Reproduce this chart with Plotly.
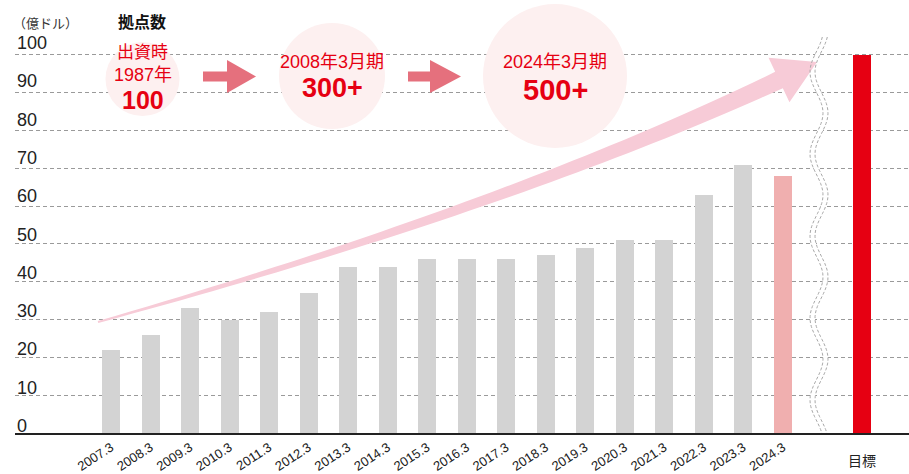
import numpy as np
import plotly.graph_objects as go

# ---------------- data ----------------
categories = ["2007.3", "2008.3", "2009.3", "2010.3", "2011.3", "2012.3", "2013.3",
              "2014.3", "2015.3", "2016.3", "2017.3", "2018.3", "2019.3", "2020.3",
              "2021.3", "2022.3", "2023.3", "2024.3"]
values = [22, 26, 33, 30, 32, 37, 44, 44, 46, 46, 46, 47, 49, 51, 51, 63, 71, 68]
target_label = "目標"
target_value = 100
y_ticks = [0, 10, 20, 30, 40, 50, 60, 70, 80, 90, 100]
unit_label = "（億ドル）"
title_label = "拠点数"
circle_texts = [["出資時", "1987年", "100"],
                ["2008年3月期", "300+"],
                ["2024年3月期", "500+"]]

# ---------------- layout geometry ----------------
W, H = 909, 474
L, R, T, B = 15, 0, 36, 41
PW, PH = W - L - R, H - T - B
X0, X1 = -2.429, 20.19
Y0, Y1 = 0, 105

def px(x):  # pixel -> paper x
    return (x - L) / PW

def py(y):  # pixel -> paper y
    return (H - B - y) / PH

FONT = "Liberation Sans, Arial, Noto Sans CJK JP, sans-serif"
RED = "#E60012"

x_pos = list(range(len(categories))) + [len(categories) + 1]
bar_vals = values + [target_value]
bar_colors = ["#D3D3D3"] * (len(categories) - 1) + ["#F0AFAF", RED]

fig = go.Figure()
fig.add_trace(go.Bar(x=x_pos, y=bar_vals, marker=dict(color=bar_colors, line=dict(width=0)),
                     width=0.456, hoverinfo="skip"))

shapes = []
annotations = []

# circles
for cx, cy, r in [(142.5, 79, 37), (332, 76, 53), (555, 76, 72)]:
    shapes.append(dict(type="circle", xref="paper", yref="paper", layer="above",
                       x0=px(cx - r), x1=px(cx + r), y0=py(cy + r), y1=py(cy - r),
                       fillcolor="#FDF0F0", line=dict(width=0)))

# small rose arrows
def small_arrow(xs, xh, xt, yc):
    pts = [(xs, yc - 5), (xh, yc - 5), (xh, yc - 16.5), (xt, yc),
           (xh, yc + 16.5), (xh, yc + 5), (xs, yc + 5)]
    return "M " + " L ".join(f"{px(a):.5f},{py(b):.5f}" for a, b in pts) + " Z"

for args in [(203, 227, 256, 76.5), (408, 430, 461, 76.5)]:
    shapes.append(dict(type="path", xref="paper", yref="paper", layer="above",
                       path=small_arrow(*args), fillcolor="#E5707D", line=dict(width=0)))

# white band behind the break
ys = np.linspace(37, 433, 120)
wl = 816.5 + 6.5 * np.cos(2 * np.pi * (ys - 113) / 82)
wr = wl + 5
band = [(a, b) for a, b in zip(wl, ys)] + [(a, b) for a, b in zip(wr[::-1], ys[::-1])]
shapes.append(dict(type="path", xref="paper", yref="paper", layer="above",
                   path="M " + " L ".join(f"{px(a):.5f},{py(b):.5f}" for a, b in band) + " Z",
                   fillcolor="white", line=dict(width=0)))

# big pink arrow
P0, P1, P2 = np.array([98.0, 322.0]), np.array([509.0, 207.0]), np.array([779.0, 80.0])
ts = np.linspace(0, 1, 50)
upper, lower = [], []
for t in ts:
    p = (1 - t) ** 2 * P0 + 2 * t * (1 - t) * P1 + t ** 2 * P2
    d = 2 * (1 - t) * (P1 - P0) + 2 * t * (P2 - P1)
    d = d / np.linalg.norm(d)
    n = np.array([-d[1], d[0]])
    w = 1.0 + 8.0 * t
    upper.append(p - w * n)
    lower.append(p + w * n)
dE = (P2 - P1) / np.linalg.norm(P2 - P1)
nE = np.array([-dE[1], dE[0]])
tip = P2 + 42 * dE
c1 = P2 - 24.6 * nE
c2 = P2 + 24.6 * nE
poly = upper + [c1, tip, c2] + lower[::-1]
shapes.append(dict(type="path", xref="paper", yref="paper", layer="above",
                   path="M " + " L ".join(f"{px(a):.5f},{py(b):.5f}" for a, b in poly) + " Z",
                   fillcolor="#F7CBD7", line=dict(width=0)))

# wavy break lines
for xs_ in (wl, wr):
    shapes.append(dict(type="path", xref="paper", yref="paper", layer="above",
                       path="M " + " L ".join(f"{px(a):.5f},{py(b):.5f}" for a, b in zip(xs_, ys)),
                       line=dict(color="#A8A8A8", width=1, dash="3px,2px")))

# y tick labels (above gridlines)
for v in y_ticks:
    annotations.append(dict(xref="paper", yref="paper", x=px(15), y=py(43 + (100 - v) * 3.83),
                            text=str(v), showarrow=False, xanchor="left", yanchor="middle",
                            font=dict(family=FONT, size=18, color="#222")))

annotations.append(dict(xref="paper", yref="paper", x=px(11), y=py(22), text=unit_label,
                        showarrow=False, xanchor="left", yanchor="middle",
                        font=dict(family="Noto Sans CJK JP", size=13, color="#333")))
annotations.append(dict(xref="paper", yref="paper", x=px(142), y=py(21), text="<b>" + title_label + "</b>",
                        showarrow=False, xanchor="center", yanchor="middle",
                        font=dict(family="Noto Sans CJK JP", size=16, color="#111")))

# circle texts
circle_text_pos = [
    [(142.5, 52, 17, False), (142.5, 75, 18, False), (142.5, 100, 25, True)],
    [(332, 62, 18, False), (332, 88, 27, True)],
    [(555, 62, 18, False), (555, 90, 29, True)],
]
for texts, poss in zip(circle_texts, circle_text_pos):
    for txt, (x, y, s, bold) in zip(texts, poss):
        annotations.append(dict(xref="paper", yref="paper", x=px(x), y=py(y),
                                text=("<b>" + txt + "</b>") if bold else txt,
                                showarrow=False, xanchor="center", yanchor="middle",
                                font=dict(family=FONT, size=s, color=RED)))

# target label
annotations.append(dict(xref="x", yref="paper", x=len(categories) + 1, y=py(460), text=target_label,
                        showarrow=False, xanchor="center", yanchor="middle",
                        font=dict(family="Noto Sans CJK JP", size=14, color="#222")))

fig.update_layout(
    width=W, height=H, margin=dict(l=L, r=R, t=T, b=B, autoexpand=False),
    paper_bgcolor="white", plot_bgcolor="white", showlegend=False,
    bargap=0, shapes=shapes, annotations=annotations,
    xaxis=dict(range=[X0, X1], tickmode="array", tickvals=list(range(len(categories))),
               ticktext=categories, tickangle=-33, showgrid=False, zeroline=False,
               showline=True, linecolor="#222", linewidth=2, ticks="", automargin=False,
               tickfont=dict(family=FONT, size=13, color="#222")),
    yaxis=dict(range=[Y0, Y1], tickvals=y_ticks[1:], showticklabels=False, showgrid=True,
               gridcolor="#9A9A9A", griddash="4px,3px", gridwidth=1, zeroline=False,
               showline=False, ticks="", automargin=False),
)

fig.write_html("out.html", config={"displayModeBar": False},
               post_script="document.body.style.margin='0';document.body.style.overflow='hidden';")
